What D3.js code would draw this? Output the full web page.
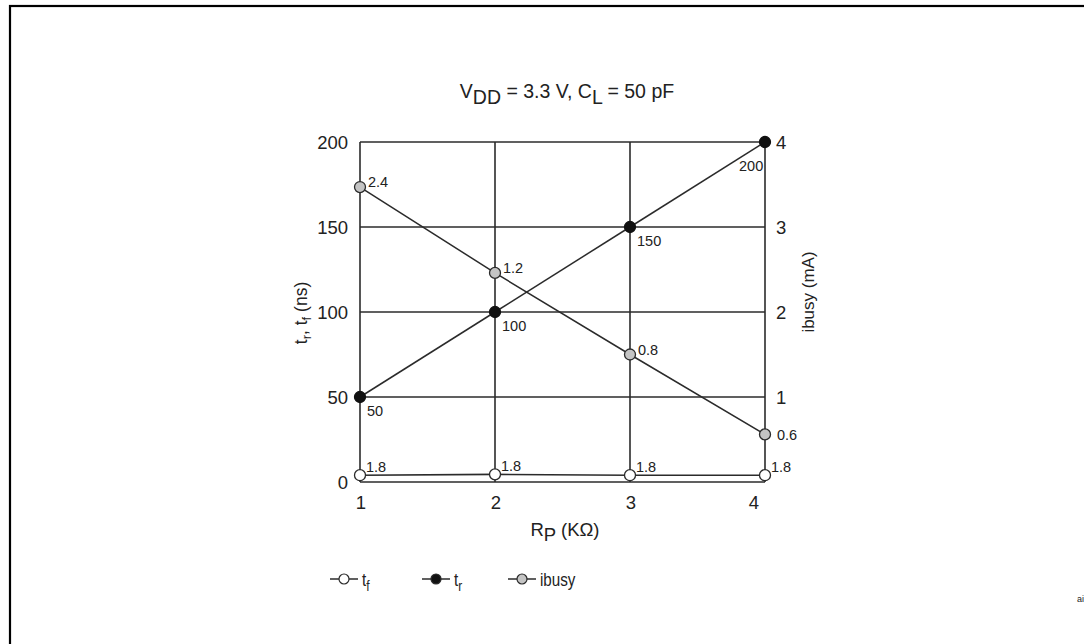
<!DOCTYPE html>
<html><head><meta charset="utf-8">
<script src="https://cdn.jsdelivr.net/npm/d3@7"></script>
<style>body{margin:0;background:#fff}svg{display:block}text{font-family:"Liberation Sans",Arial,sans-serif;fill:#222}</style>
</head><body><svg id="c" width="1084" height="644"></svg>
<script>
const rp = [1, 2, 3, 4];
const tfValues = [4, 4.5, 4, 4];
const tfLabels = ["1.8", "1.8", "1.8", "1.8"];
const trValues = [50, 100, 150, 200];
const trLabels = ["50", "100", "150", "200"];
const ibusyValues = [3.47, 2.46, 1.5, 0.56];
const ibusyLabels = ["2.4", "1.2", "0.8", "0.6"];
const leftTicks = [0, 50, 100, 150, 200];
const rightTicks = [1, 2, 3, 4];

const svg = d3.select("#c");
const x = d3.scaleLinear().domain([1, 4]).range([360, 765]);
const yL = d3.scaleLinear().domain([0, 200]).range([482, 142]);
const yR = d3.scaleLinear().domain([0, 4]).range([482, 142]);
const ink = "#2b2b2b";

// frame
svg.append("rect").attr("x", 10).attr("y", 6).attr("width", 1090).attr("height", 660)
  .attr("fill", "none").attr("stroke", "#000").attr("stroke-width", 2.2);

// grid
const g = svg.append("g");
g.selectAll("line.v").data(rp).join("line")
  .attr("x1", d => x(d)).attr("x2", d => x(d)).attr("y1", yL(200)).attr("y2", yL(0))
  .attr("stroke", ink).attr("stroke-width", 1.6);
g.selectAll("line.h").data(leftTicks).join("line")
  .attr("x1", x(1)).attr("x2", x(4)).attr("y1", d => yL(d)).attr("y2", d => yL(d))
  .attr("stroke", ink).attr("stroke-width", 1.6);

// tick labels
svg.selectAll("text.lt").data(leftTicks).join("text")
  .attr("x", x(1) - 12).attr("y", d => yL(d) + 7).attr("text-anchor", "end")
  .attr("font-size", 18.5).text(d => d);
svg.selectAll("text.rt").data(rightTicks).join("text")
  .attr("x", x(4) + 11).attr("y", d => yR(d) + 7).attr("text-anchor", "start")
  .attr("font-size", 18.5).text(d => d);
svg.selectAll("text.xt").data(rp).join("text")
  .attr("x", (d, i) => x(d) + (i === rp.length - 1 ? -11 : 1)).attr("y", 509).attr("text-anchor", "middle")
  .attr("font-size", 18.5).text(d => d);

// axis titles
const xt = svg.append("text").attr("x", 565).attr("y", 536).attr("text-anchor", "middle").attr("font-size", 18.5);
xt.append("tspan").text("R");
xt.append("tspan").attr("dy", 5).text("P");
xt.append("tspan").attr("dy", -5).text(" (KΩ)");

const lt = svg.append("text").attr("transform", "translate(307,313) rotate(-90)").attr("text-anchor", "middle").attr("font-size", 17.5);
lt.append("tspan").text("t");
lt.append("tspan").attr("dy", 4).attr("font-size", 13).text("r");
lt.append("tspan").attr("dy", -4).text(", t");
lt.append("tspan").attr("dy", 4).attr("font-size", 13).text("f");
lt.append("tspan").attr("dy", -4).text(" (ns)");

svg.append("text").attr("transform", "translate(814,292) rotate(-90)").attr("text-anchor", "middle")
  .attr("font-size", 17).text("ibusy (mA)");

const st = svg.append("text").attr("x", 567).attr("y", 98).attr("text-anchor", "middle").attr("font-size", 19.5);
st.append("tspan").text("V");
st.append("tspan").attr("dy", 6).text("DD");
st.append("tspan").attr("dy", -6).text(" = 3.3 V, C");
st.append("tspan").attr("dy", 6).text("L");
st.append("tspan").attr("dy", -6).text(" = 50 pF");

// series
const lineL = d3.line().x((d, i) => x(rp[i])).y(d => yL(d));
const lineR = d3.line().x((d, i) => x(rp[i])).y(d => yR(d));
svg.append("path").attr("d", lineL(tfValues)).attr("fill", "none").attr("stroke", ink).attr("stroke-width", 1.6);
svg.append("path").attr("d", lineL(trValues)).attr("fill", "none").attr("stroke", ink).attr("stroke-width", 1.5);
svg.append("path").attr("d", lineR(ibusyValues)).attr("fill", "none").attr("stroke", ink).attr("stroke-width", 1.5);

const r = 5.5;
svg.selectAll("circle.tf").data(tfValues).join("circle")
  .attr("cx", (d, i) => x(rp[i])).attr("cy", d => yL(d)).attr("r", r)
  .attr("fill", "#fff").attr("stroke", ink).attr("stroke-width", 1.3);
svg.selectAll("circle.tr").data(trValues).join("circle")
  .attr("cx", (d, i) => x(rp[i])).attr("cy", d => yL(d)).attr("r", r)
  .attr("fill", "#111").attr("stroke", "#111").attr("stroke-width", 1.3);
svg.selectAll("circle.ib").data(ibusyValues).join("circle")
  .attr("cx", (d, i) => x(rp[i])).attr("cy", d => yR(d)).attr("r", r)
  .attr("fill", "#c4c4c4").attr("stroke", ink).attr("stroke-width", 1.3);

// data labels
svg.selectAll("text.tfl").data(tfLabels).join("text")
  .attr("x", (d, i) => x(rp[i]) + 6).attr("y", (d, i) => yL(tfValues[i]) - 3)
  .attr("font-size", 14.5).text(d => d);
svg.selectAll("text.trl").data(trLabels).join("text")
  .attr("x", (d, i) => i === 3 ? x(rp[i]) - 26 : x(rp[i]) + 7).attr("y", (d, i) => yL(trValues[i]) + (i === 3 ? 29 : 19))
  .attr("font-size", 14.5).text(d => d);
svg.selectAll("text.ibl").data(ibusyLabels).join("text")
  .attr("x", (d, i) => x(rp[i]) + (i === 3 ? 12 : 8)).attr("y", (d, i) => yR(ibusyValues[i]) + (i === 3 ? 6 : 0))
  .attr("font-size", 14.5).text(d => d);

// legend
const legend = [
  {name: "t", sub: "f", fill: "#fff"},
  {name: "t", sub: "r", fill: "#111"},
  {name: "ibusy", sub: "", fill: "#c4c4c4"}
];
const lx = [330, 422, 508];
const ly = 579;
legend.forEach((L, i) => {
  const gl = svg.append("g").attr("transform", `translate(${lx[i]},${ly})`);
  gl.append("line").attr("x1", 0).attr("x2", 28).attr("stroke", ink).attr("stroke-width", 1.5);
  gl.append("circle").attr("cx", 14).attr("r", 5).attr("fill", L.fill).attr("stroke", ink).attr("stroke-width", 1.2);
  const t = gl.append("text").attr("transform", "translate(32,7) scale(0.8,1)").attr("font-size", 19);
  t.append("tspan").text(L.name);
  if (L.sub) t.append("tspan").attr("dy", 5).attr("font-size", 15).text(L.sub);
});

svg.append("text").attr("x", 1077).attr("y", 602).attr("font-size", 9).text("ai");
</script></body></html>
